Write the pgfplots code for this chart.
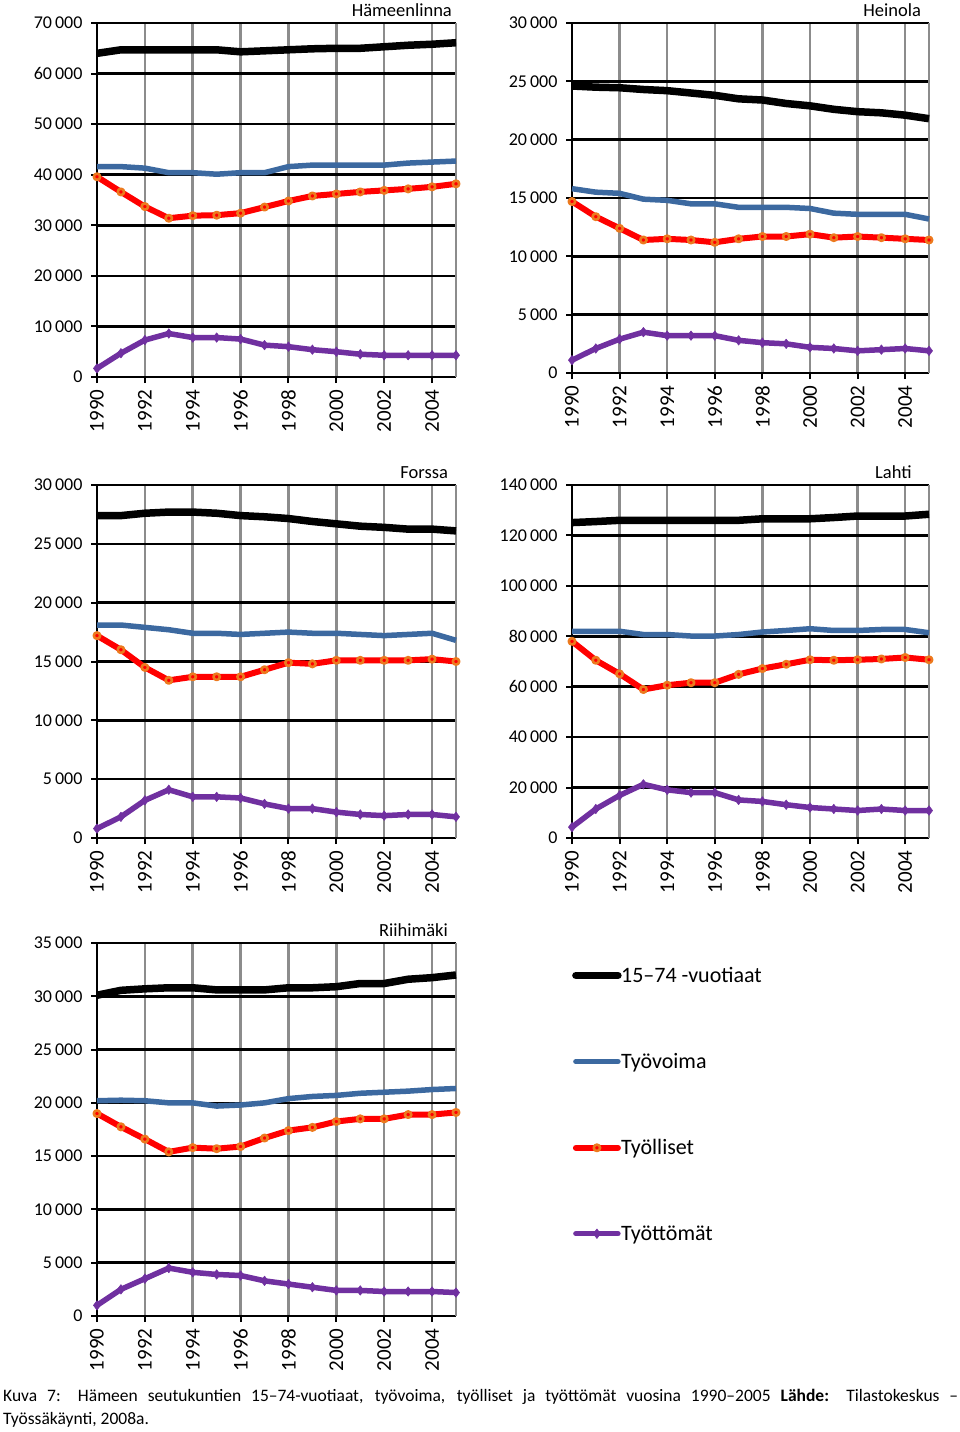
\documentclass[border=0pt]{standalone}
\usepackage{fontspec}
\setmainfont{Carlito}
\usepackage{pgfplots}
\usepackage{pgfplotstable}
\pgfplotsset{compat=1.18}

\definecolor{tvblue}{HTML}{3C69A0}
\definecolor{ttpurple}{HTML}{7030A0}
\definecolor{tlorange}{HTML}{EC7A1E}
\definecolor{gridgray}{HTML}{8C8C8C}

% year, 15-74-vuotiaat, tyovoima, tyolliset, tyottomat
\pgfplotstableread{
year ika tv tl tt
1990 64000 41600 39600 1700
1991 64700 41600 36600 4700
1992 64700 41300 33700 7300
1993 64700 40400 31400 8600
1994 64700 40400 31900 7800
1995 64700 40100 32000 7800
1996 64300 40400 32400 7500
1997 64500 40400 33600 6300
1998 64700 41600 34800 6000
1999 64900 41900 35800 5400
2000 65000 41900 36200 5000
2001 65000 41900 36600 4500
2002 65300 41900 36900 4300
2003 65600 42300 37200 4300
2004 65800 42500 37600 4300
2005 66100 42700 38200 4300
}\hameenlinna

\pgfplotstableread{
year ika tv tl tt
1990 24600 15800 14700 1100
1991 24500 15500 13400 2100
1992 24450 15400 12400 2900
1993 24300 14900 11400 3500
1994 24200 14800 11500 3200
1995 24000 14500 11400 3200
1996 23800 14500 11200 3200
1997 23500 14200 11500 2800
1998 23400 14200 11700 2600
1999 23100 14200 11700 2500
2000 22900 14100 11900 2200
2001 22600 13700 11600 2100
2002 22400 13600 11700 1900
2003 22300 13600 11600 2000
2004 22100 13600 11500 2100
2005 21800 13200 11400 1900
}\heinola

\pgfplotstableread{
year ika tv tl tt
1990 27400 18100 17200 800
1991 27400 18100 16000 1800
1992 27600 17900 14500 3200
1993 27700 17700 13400 4100
1994 27700 17400 13700 3500
1995 27600 17400 13700 3500
1996 27400 17300 13700 3400
1997 27300 17400 14300 2900
1998 27150 17500 14900 2500
1999 26900 17400 14800 2500
2000 26700 17400 15100 2200
2001 26500 17300 15100 2000
2002 26400 17200 15100 1900
2003 26250 17300 15100 2000
2004 26250 17400 15200 2000
2005 26100 16800 15000 1800
}\forssa

\pgfplotstableread{
year ika tv tl tt
1990 125100 82000 78000 4300
1991 125500 82000 70500 11500
1992 126000 82000 65100 16900
1993 126000 80700 58900 21300
1994 126000 80700 60600 19100
1995 126000 80100 61600 18000
1996 126000 80100 61600 18000
1997 126000 80700 64900 15100
1998 126600 81700 67200 14500
1999 126600 82300 68900 13200
2000 126600 83000 70700 12100
2001 127100 82300 70500 11500
2002 127700 82300 70700 10900
2003 127700 82700 71000 11500
2004 127700 82700 71600 10900
2005 128400 81400 70700 10900
}\lahti

\pgfplotstableread{
year ika tv tl tt
1990 30100 20200 19000 1000
1991 30560 20250 17750 2500
1992 30700 20200 16600 3500
1993 30800 20000 15400 4500
1994 30800 20000 15800 4100
1995 30600 19700 15700 3900
1996 30600 19800 15900 3800
1997 30600 20000 16700 3300
1998 30800 20400 17400 3000
1999 30800 20600 17700 2700
2000 30900 20700 18250 2400
2001 31200 20900 18500 2400
2002 31200 21000 18500 2300
2003 31600 21100 18900 2300
2004 31750 21250 18900 2300
2005 32000 21350 19100 2200
}\riihimaki

\pgfplotsset{
  panel/.style={
    scale only axis, width=359pt, height=354pt,
    anchor=north west, clip=false,
    axis lines=left,
    axis line style={-, black, line width=2.5pt},
    xmin=1990, xmax=2005, ymin=0,
    xtick={1990,1992,...,2004},
    extra x ticks={2005}, extra x tick labels={},
    extra x tick style={grid=major, major tick length=0pt},
    xmajorgrids, ymajorgrids,
    x grid style={gridgray, line width=2.5pt},
    y grid style={black, line width=2.5pt},
    tick align=outside, major tick length=6pt,
    tick style={black, line width=2pt},
    scaled y ticks=false,
    xticklabel style={yshift=-3pt, rotate=90, anchor=east, font=\fontsize{21}{22}\selectfont,
      /pgf/number format/1000 sep={}},
    yticklabel style={xshift=-5pt, font=\fontsize{18}{20}\selectfont,
      /pgf/number format/fixed, /pgf/number format/1000 sep={\,}},
    /pgf/number format/assume math mode=true,
    title style={anchor=base east, yshift=1pt, inner sep=0pt,
      font=\fontsize{18.5}{20}\selectfont},
  },
  s ika/.style={black, line width=7.5pt, line join=round, no markers},
  s tv/.style={tvblue, line width=5.5pt, line join=round, no markers},
  s tl/.style={red, line width=6pt, line join=round, mark=*, mark size=3.2pt,
    mark options={fill=red, draw=tlorange, line width=2.6pt}},
  s tt/.style={ttpurple, line width=5.5pt, line join=round, mark=diamond*, mark size=4.8pt,
    mark options={fill=ttpurple, line width=0.5pt}},
}

\begin{document}
\begin{tikzpicture}
\useasboundingbox (0,0) rectangle (960pt,-1432pt);

\begin{axis}[panel, at={(97pt,-23pt)}, height=354pt, ymax=70000, ytick distance=10000,
  title={Hämeenlinna}, title style={at={(0.989,1)}}]
  \addplot[s ika] table[x=year, y=ika] {\hameenlinna};
  \addplot[s tv] table[x=year, y=tv] {\hameenlinna};
  \addplot[s tl] table[x=year, y=tl] {\hameenlinna};
  \addplot[s tt] table[x=year, y=tt] {\hameenlinna};
\end{axis}

\begin{axis}[panel, at={(572pt,-23pt)}, width=357pt, height=350pt, ymax=30000, ytick distance=5000,
  title={Heinola}, title style={at={(0.978,1)}}]
  \addplot[s ika] table[x=year, y=ika] {\heinola};
  \addplot[s tv] table[x=year, y=tv] {\heinola};
  \addplot[s tl] table[x=year, y=tl] {\heinola};
  \addplot[s tt] table[x=year, y=tt] {\heinola};
\end{axis}

\begin{axis}[panel, at={(97pt,-485pt)}, height=353pt, ymax=30000, ytick distance=5000,
  title={Forssa}, title style={at={(0.978,1)}}]
  \addplot[s ika] table[x=year, y=ika] {\forssa};
  \addplot[s tv] table[x=year, y=tv] {\forssa};
  \addplot[s tl] table[x=year, y=tl] {\forssa};
  \addplot[s tt] table[x=year, y=tt] {\forssa};
\end{axis}

\begin{axis}[panel, at={(572pt,-485pt)}, width=357pt, height=353pt, ymax=140000, ytick distance=20000,
  title={Lahti}, title style={at={(0.952,1)}}]
  \addplot[s ika] table[x=year, y=ika] {\lahti};
  \addplot[s tv] table[x=year, y=tv] {\lahti};
  \addplot[s tl] table[x=year, y=tl] {\lahti};
  \addplot[s tt] table[x=year, y=tt] {\lahti};
\end{axis}

\begin{axis}[panel, at={(97pt,-943pt)}, height=373pt, ymax=35000, ytick distance=5000,
  title={Riihimäki}, title style={at={(0.978,1)}},
  legend style={draw=none, fill=none, at={(1.323,0.94)}, anchor=north west,
    font=\fontsize{22}{26}\selectfont, row sep=66.5pt, inner sep=0pt,
    nodes={inner sep=1.5pt}, column sep=-2pt},
  legend cell align=left,
  legend image code/.code={\draw[mark repeat=2, mark phase=2, line cap=round, #1]
    plot coordinates {(0pt,0pt) (21pt,0pt) (42pt,0pt)};}]
  \addplot[s ika] table[x=year, y=ika] {\riihimaki};
  \addlegendentry{15–74 -vuotiaat}
  \addplot[s tv] table[x=year, y=tv] {\riihimaki};
  \addlegendentry{Työvoima}
  \addplot[s tl] table[x=year, y=tl] {\riihimaki};
  \addlegendentry{Työlliset}
  \addplot[s tt] table[x=year, y=tt] {\riihimaki};
  \addlegendentry{Työttömät}
\end{axis}

\node[anchor=north west, inner sep=0pt, text width=955pt, align=justify,
  font=\fontsize{17.5}{23}\selectfont] at (3pt,-1389pt)
  {Kuva 7: Hämeen seutukuntien 15–74-vuotiaat, työvoima, työlliset ja työttömät vuosina 1990–2005 \textbf{Lähde:} Tilastokeskus –\linebreak Työssäkäynti, 2008a.};
\end{tikzpicture}
\end{document}
